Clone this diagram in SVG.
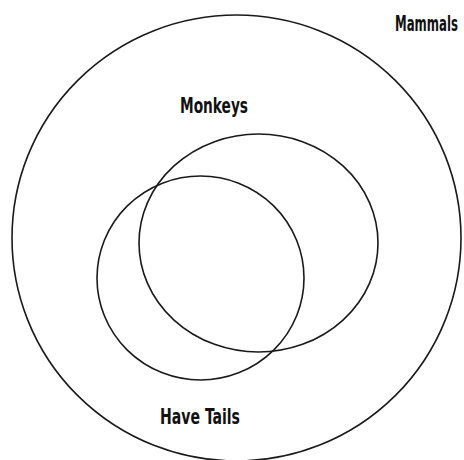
<svg xmlns="http://www.w3.org/2000/svg" width="464" height="460" viewBox="0 0 464 460">
<style>
.set{fill:none;stroke:#1a1a1a;stroke-width:1.6}
.lbl{font-family:"Liberation Sans Narrow","DejaVu Sans Condensed","Liberation Sans",sans-serif;font-weight:bold;font-size:21px;fill:#111}
</style>
<rect width="464" height="460" fill="#fff"/>
<g id="mammals">
<ellipse class="set" cx="236.5" cy="238" rx="224.5" ry="223"/>
<text class="lbl" x="458" y="31" text-anchor="end" textLength="63" lengthAdjust="spacingAndGlyphs">Mammals</text>
</g>
<g id="monkeys">
<ellipse class="set" cx="258.5" cy="243" rx="119.5" ry="109"/>
<text class="lbl" x="180" y="113" textLength="68" lengthAdjust="spacingAndGlyphs">Monkeys</text>
</g>
<g id="have-tails">
<ellipse class="set" cx="200.5" cy="278" rx="103.5" ry="102"/>
<text class="lbl" x="160" y="424" textLength="80" lengthAdjust="spacingAndGlyphs">Have Tails</text>
</g>
<g id="connectors"/>
</svg>
